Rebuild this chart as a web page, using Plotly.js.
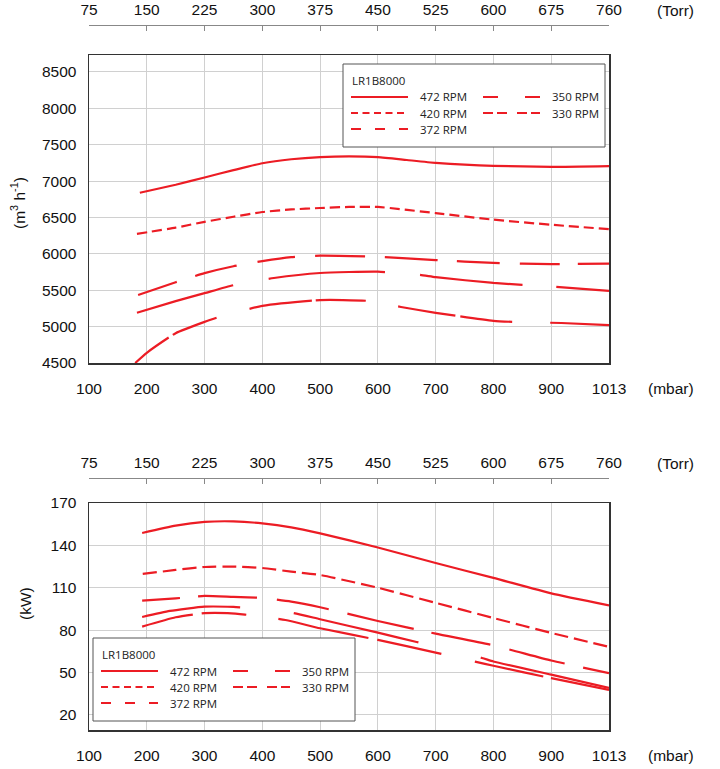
<!DOCTYPE html>
<html>
<head>
<meta charset="utf-8">
<script src="https://cdn.plot.ly/plotly-3.0.1.min.js"></script>
<style>
  html, body { margin: 0; padding: 0; background: #fff; }
  #plot { width: 720px; height: 769px; }
</style>
</head>
<body>
<div id="plot"></div>
<script>
// Axis labels
var mbarTicks = [100, 200, 300, 400, 500, 600, 700, 800, 900, 1013];
var torrTicks = ['75', '150', '225', '300', '375', '450', '525', '600', '675', '760'];
var rpmNames = ['472 RPM', '420 RPM', '372 RPM', '350 RPM', '330 RPM'];

// Pumping speed (m3/h) vs inlet pressure (mbar)
var flowX472 = [188, 250, 300, 350, 400, 450, 500, 550, 600, 650, 700, 750, 800, 900, 1013];
var flowY472 = [6840, 6950, 7050, 7150, 7245, 7300, 7330, 7340, 7330, 7290, 7250, 7225, 7210, 7195, 7205];
var flowX420 = [183, 250, 300, 350, 400, 450, 500, 550, 600, 700, 800, 900, 1013];
var flowY420 = [6275, 6360, 6440, 6510, 6575, 6610, 6630, 6645, 6645, 6560, 6470, 6400, 6340];
var flowX372 = [185, 250, 300, 350, 400, 450, 500, 600, 700, 800, 900, 1013];
var flowY372 = [5435, 5610, 5735, 5830, 5900, 5955, 5975, 5960, 5915, 5875, 5860, 5865];
var flowX350 = [183, 250, 300, 350, 420, 500, 600, 673, 700, 800, 900, 1013];
var flowY350 = [5190, 5350, 5460, 5570, 5668, 5737, 5755, 5710, 5680, 5600, 5550, 5490];
var flowX330 = [180, 200, 250, 300, 330, 400, 500, 580, 640, 700, 800, 850, 920, 1013];
var flowY330 = [4500, 4640, 4910, 5065, 5145, 5285, 5365, 5355, 5270, 5190, 5080, 5060, 5050, 5020];

// Power (kW) vs inlet pressure (mbar)
var powerX472 = [192, 250, 300, 350, 400, 450, 500, 600, 700, 800, 900, 1013];
var powerY472 = [148.8, 154, 156.6, 157, 155.6, 152.8, 148.5, 138.5, 127.5, 117, 106, 97.5];
var powerX420 = [193, 250, 300, 350, 400, 450, 500, 600, 700, 800, 900, 1013];
var powerY420 = [119.8, 122.6, 124.7, 125, 124, 121.4, 119, 110, 99.3, 88.6, 78, 68.2];
var powerX372 = [192, 250, 300, 350, 400, 450, 500, 600, 700, 800, 900, 1013];
var powerY372 = [100.9, 102.5, 104.2, 103.5, 102.8, 100.2, 96.2, 86.5, 77.5, 69.2, 58.5, 49.5];
var powerX350 = [192, 240, 300, 350, 400, 453, 500, 600, 667, 780, 800, 900, 1013];
var powerY350 = [89.3, 93.6, 96.6, 96.4, 95, 92.2, 87.7, 78.2, 71.6, 60.3, 57.8, 48.5, 39.1];
var powerX330 = [192, 250, 300, 340, 370, 440, 500, 600, 700, 770, 800, 900, 1013];
var powerY330 = [82.5, 89.1, 92, 92, 91, 87.2, 81.3, 73.1, 64.1, 57.5, 54.8, 46, 37.7];

var red = '#ec1c24';
var W = 720, H = 769;

// dash patterns, one per rpm, for each panel and for the legend samples
// (the broken curves in the original are hand-cut, so the gaps are listed as drawn)
var flowDash = [
  'solid',
  '10px,5px',
  '41px,19px,43px,21px,38px,20px,50px,20px,53px,19px,43px,20px,40px,18px,45px',
  '100px,36px,117px,35px,103px,34px,60px,20px',
  '42px,5px,47px,34px,63px,4px,50px,33px,58px,5px,52px,38px,60px,10px'
];
var powerDash = [
  'solid',
  '14px,6px',
  '38px,18px,59px,20px,53px,19px,68px,18px,60px,20px,57px,19px,40px',
  '99px,54px,128px,64px,140px',
  '52px,9px,45px,32px,92px,9px,66px,34px,70px,8px,60px'
];
var legendDash = ['solid', '7px,4.5px', '10px,14px', '15px,27px', '10px,4px,10px,10px'];

// the pressure axis is evenly spaced per tick, last step is 900 -> 1013
function mbarPos(m) {
  return m <= 900 ? m : 900 + (m - 900) * 100 / 113;
}
function px(x) { return x / W; }
function py(y) { return 1 - y / H; }

var flowX = [flowX472, flowX420, flowX372, flowX350, flowX330];
var flowY = [flowY472, flowY420, flowY372, flowY350, flowY330];
var powerX = [powerX472, powerX420, powerX372, powerX350, powerX330];
var powerY = [powerY472, powerY420, powerY372, powerY350, powerY330];

var data = [];
rpmNames.forEach(function (name, i) {
  data.push({
    x: flowX[i].map(mbarPos), y: flowY[i], name: name, type: 'scatter', mode: 'lines',
    xaxis: 'x', yaxis: 'y', line: {color: red, width: 2.2, dash: flowDash[i], shape: 'spline', smoothing: 0.5},
    hoverinfo: 'skip'
  });
  data.push({
    x: powerX[i].map(mbarPos), y: powerY[i], name: name, type: 'scatter', mode: 'lines',
    xaxis: 'x2', yaxis: 'y2', line: {color: red, width: 2.2, dash: powerDash[i], shape: 'spline', smoothing: 0.5},
    hoverinfo: 'skip'
  });
});
// empty traces so the Torr axes get their own subplots
data.push({x: [null], y: [null], xaxis: 'x3', yaxis: 'y', type: 'scatter', showlegend: false});
data.push({x: [null], y: [null], xaxis: 'x4', yaxis: 'y2', type: 'scatter', showlegend: false});

var tickFont = {family: 'Liberation Sans, Arial, sans-serif', size: 15.5, color: '#111'};
var tickPos = mbarTicks.map(mbarPos);
var xDomain = [px(89), px(609)];

function mbarAxis(anchor) {
  return {
    domain: xDomain, anchor: anchor, range: [100, 1000],
    tickmode: 'array', tickvals: tickPos, ticktext: mbarTicks.map(String),
    showgrid: true, gridcolor: '#d0d0d0', gridwidth: 1, zeroline: false,
    showline: true, mirror: true, linecolor: '#333', linewidth: 1.5,
    ticks: '', ticklabelstandoff: 11, tickfont: tickFont, fixedrange: true
  };
}
function torrAxis(over, yPix) {
  return {
    overlaying: over, anchor: 'free', position: py(yPix), side: 'top', range: [100, 1000],
    tickmode: 'array', tickvals: tickPos, ticktext: torrTicks,
    showgrid: false, zeroline: false, showline: true, linecolor: '#888', linewidth: 1,
    ticks: 'inside', ticklen: 5, tickcolor: '#888', ticklabelstandoff: 4, tickfont: tickFont
  };
}
function valueAxis(anchor, dom, range, t0, dt) {
  return {
    domain: dom, anchor: anchor, range: range, tick0: t0, dtick: dt,
    showgrid: true, gridcolor: '#d0d0d0', gridwidth: 1, zeroline: false,
    showline: true, mirror: true, linecolor: '#333', linewidth: 1.5,
    ticks: '', ticklabelstandoff: 8, tickfont: tickFont, fixedrange: true
  };
}

var shapes = [];
var annotations = [];

function note(text, x, y, opts) {
  var a = {
    text: text, x: px(x), y: py(y), xref: 'paper', yref: 'paper', showarrow: false,
    xanchor: 'center', yanchor: 'middle', font: tickFont
  };
  for (var k in opts) a[k] = opts[k];
  annotations.push(a);
}

// legend box drawn like the original: title row, then two columns
function legendBox(bx, by) {
  var legFont = {family: 'Open Sans, sans-serif', size: 11.5, color: '#222'};
  shapes.push({
    type: 'rect', xref: 'paper', yref: 'paper', x0: px(bx), x1: px(bx + 262), y0: py(by), y1: py(by + 83),
    fillcolor: '#fff', line: {color: '#555', width: 1}, layer: 'above'
  });
  note('LR1B8000', bx + 7, by + 16, {xanchor: 'left', font: legFont});
  var slots = [[0, 0], [0, 1], [0, 2], [1, 0], [1, 1]];
  rpmNames.forEach(function (name, i) {
    var col = slots[i][0], row = slots[i][1];
    var y = by + 33 + row * 16;
    var sx = bx + 8 + col * 132;
    shapes.push({
      type: 'line', xref: 'paper', yref: 'paper', x0: px(sx), x1: px(sx + 57), y0: py(y), y1: py(y),
      line: {color: red, width: 1.8, dash: legendDash[i]}, layer: 'above'
    });
    note(name, sx + 67, y, {xanchor: 'left', font: legFont});
  });
}
legendBox(343, 64);
legendBox(93, 638);

note('(Torr)', 675, 11, {});
note('(mbar)', 671, 388, {});
note('(Torr)', 675, 463, {});
note('(mbar)', 671, 755, {});
note('(m<sup>3</sup> h<sup>-1</sup>)', 18, 203, {textangle: -90});
note('(kW)', 25, 604, {textangle: -90});

var layout = {
  width: W, height: H,
  margin: {l: 0, r: 0, t: 0, b: 0},
  paper_bgcolor: '#fff', plot_bgcolor: '#fff',
  showlegend: false,
  font: {family: 'Liberation Sans, Arial, sans-serif'},
  xaxis: mbarAxis('y'),
  xaxis2: mbarAxis('y2'),
  xaxis3: torrAxis('x', 25),
  xaxis4: torrAxis('x2', 478),
  yaxis: valueAxis('x', [py(363), py(55)], [4500, 8733], 4500, 500),
  yaxis2: valueAxis('x2', [py(730), py(503)], [9.3, 170], 20, 30),
  shapes: shapes,
  annotations: annotations
};

Plotly.newPlot('plot', data, layout, {staticPlot: true, displayModeBar: false});
</script>
</body>
</html>
